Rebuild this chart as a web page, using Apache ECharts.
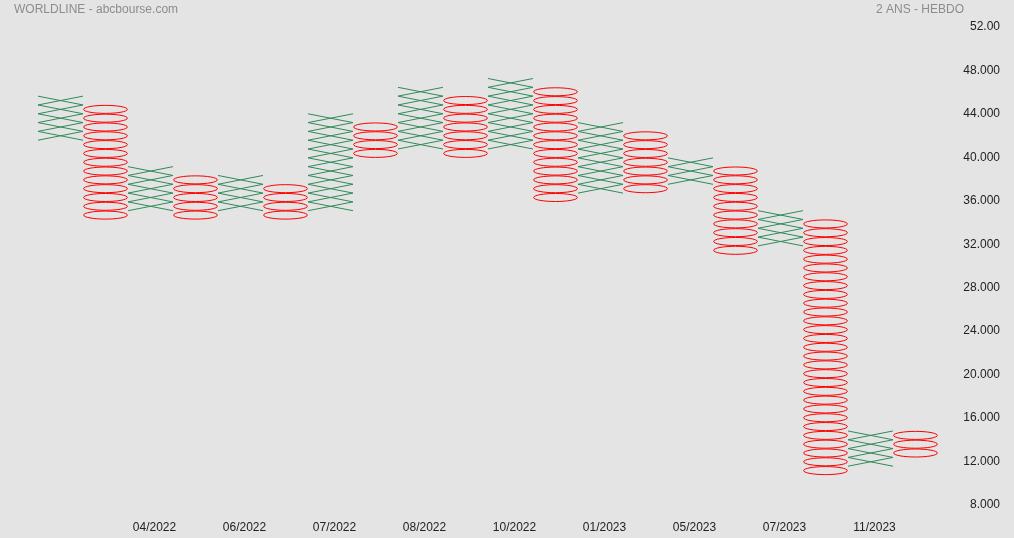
<!DOCTYPE html>
<html>
<head>
<meta charset="utf-8">
<script src="https://cdn.jsdelivr.net/npm/echarts@6/dist/echarts.min.js"></script>
<style>
html,body{margin:0;padding:0;background:#e4e4e4;}
#c{width:1014px;height:538px;}
</style>
</head>
<body>
<div id="c"></div>
<script>
// Point & figure columns (box size in price units)
var BOX = 0.811;
var colTypes = ['X','O','X','O','X','O','X','O','X','O','X','O','X','O','X','O','X','O','X','O'];
var colHigh  = [45.63,44.82,39.15,38.33,38.33,37.52,44.01,43.20,46.44,45.63,47.26,46.44,43.20,42.39,39.96,39.15,35.09,34.28,14.82,14.82];
var colLow   = [41.58,34.28,35.09,34.28,35.09,34.28,35.09,39.96,40.77,39.96,40.77,35.90,36.71,36.71,37.52,31.04,31.85,10.76,11.57,12.38];
var colDates = ['','','04/2022','','06/2022','','07/2022','','08/2022','','10/2022','','01/2023','','05/2023','','07/2023','','11/2023',''];
var yTickValues = [8,12,16,20,24,28,32,36,40,44,48,52];
var yTickLabels = ['8.000','12.000','16.000','20.000','24.000','28.000','32.000','36.000','40.000','44.000','48.000','52.00'];

var data = [];
for (var i = 0; i < colTypes.length; i++) {
  data.push([i, colHigh[i], colLow[i], colTypes[i] === 'X' ? 1 : 0]);
}

function renderItem(params, api) {
  var ci = api.value(0), hi = api.value(1), lo = api.value(2), t = api.value(3);
  var n = Math.round((hi - lo) / BOX);
  var bw = api.size([1, 0])[0];
  var children = [];
  for (var k = 0; k < n; k++) {
    var pt = api.coord([ci, lo + (k + 1) * BOX]);
    var pb = api.coord([ci, lo + k * BOX]);
    var cx = pt[0], x0 = cx - bw / 2, x1 = cx + bw / 2, y0 = pt[1], y1 = pb[1];
    if (t === 1) {
      children.push({type:'line', shape:{x1:x0,y1:y0,x2:x1,y2:y1}, style:{stroke:'#2e8b57', lineWidth:1}});
      children.push({type:'line', shape:{x1:x0,y1:y1,x2:x1,y2:y0}, style:{stroke:'#2e8b57', lineWidth:1}});
    } else {
      children.push({type:'ellipse', shape:{cx:cx, cy:(y0+y1)/2, rx:bw/2-0.6, ry:(y1-y0)/2-0.4}, style:{stroke:'#ff0000', fill:null, lineWidth:1}});
    }
  }
  return {type:'group', children:children};
}

var chart = echarts.init(document.getElementById('c'));
chart.setOption({
  backgroundColor:'#e4e4e4',
  animation:false,
  title:[
    {text:'WORLDLINE - abcbourse.com', left:9, top:-1, textStyle:{fontFamily:'Liberation Sans, Arial, sans-serif', fontSize:12, fontWeight:'normal', color:'#8c8c8c'}},
    {text:'2 ANS - HEBDO', right:45, top:-1, textStyle:{fontFamily:'Liberation Sans, Arial, sans-serif', fontSize:12, fontWeight:'normal', color:'#8c8c8c'}}
  ],
  grid:{left:38, right:76, top:27, bottom:33},
  xAxis:{
    type:'category', data:colDates, boundaryGap:true,
    axisLine:{show:false}, axisTick:{show:false}, splitLine:{show:false},
    axisLabel:{interval:0, margin:17, color:'#222', fontSize:12, fontFamily:'Liberation Sans, Arial, sans-serif', padding:[0,0,0,8]}
  },
  yAxis:{
    type:'value', position:'right', min:8, max:52, interval:4,
    axisLine:{show:false}, axisTick:{show:false}, splitLine:{show:false},
    axisLabel:{margin:62, align:'right', color:'#222', fontSize:12, fontFamily:'Liberation Sans, Arial, sans-serif',
      formatter:function(v){ var i = yTickValues.indexOf(v); return i >= 0 ? yTickLabels[i] : ''; }}
  },
  series:[{
    type:'custom', renderItem:renderItem, data:data,
    encode:{x:0, y:[1,2]}, clip:false
  }]
});
</script>
</body>
</html>
